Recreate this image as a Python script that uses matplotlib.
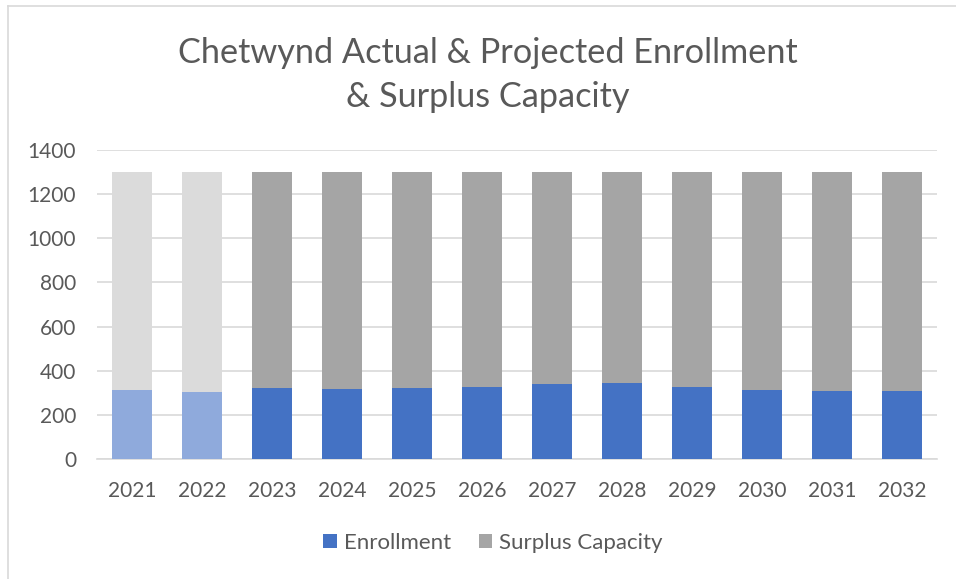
import matplotlib
matplotlib.use("Agg")
import matplotlib.pyplot as plt
from matplotlib.patches import Patch
from matplotlib.lines import Line2D

years = ["2021", "2022", "2023", "2024", "2025", "2026", "2027", "2028", "2029", "2030", "2031", "2032"]
enrollment = [312, 303, 320, 317, 320, 326, 341, 345, 327, 314, 309, 309]
capacity = [1300] * 12
surplus = [c - e for c, e in zip(capacity, enrollment)]
actual_years = ["2021", "2022"]

title = "Chetwynd Actual & Projected Enrollment\n& Surplus Capacity"
yticks = [0, 200, 400, 600, 800, 1000, 1200, 1400]

plt.rcParams["font.family"] = ["Lato", "DejaVu Sans"]
TXT = "#595959"

fig = plt.figure(figsize=(9.56, 5.79), dpi=100)
ax = fig.add_axes([97/956, 1 - 459/579, 840/956, 309/579])

x = list(range(len(years)))
enr_colors = ["#8FAADC" if y in actual_years else "#4472C4" for y in years]
sur_colors = ["#DBDBDB" if y in actual_years else "#A5A5A5" for y in years]

ax.bar(x, enrollment, width=0.585, color=enr_colors, zorder=3)
ax.bar(x, surplus, bottom=enrollment, width=0.585, color=sur_colors, zorder=3)

ax.set_xlim(-0.5, len(years) - 0.5)
ax.set_ylim(0, 1400)
ax.set_yticks(yticks)
ax.set_yticklabels([str(v) for v in yticks], fontsize=15, color=TXT)
ax.set_xticks(x)
ax.set_xticklabels(years, fontsize=15, color=TXT)
ax.tick_params(axis="both", length=0)
ax.tick_params(axis="y", pad=15)
ax.tick_params(axis="x", pad=16)
ax.yaxis.grid(True, color="#D9D9D9", linewidth=1.2, zorder=0)
for s in ["top", "right", "left"]:
    ax.spines[s].set_visible(False)
ax.spines["bottom"].set_color("#D9D9D9")
ax.spines["bottom"].set_linewidth(1.2)

fig.text(488/956, 1 - 75/579, title, ha="center", va="center", fontsize=24.7,
         color=TXT, linespacing=1.45)

handles = [Patch(facecolor="#4472C4", label="Enrollment"),
           Patch(facecolor="#A5A5A5", label="Surplus Capacity")]
fig.legend(handles=handles, loc="center", bbox_to_anchor=(493/956, 1 - 543/579),
           ncol=2, frameon=False, fontsize=16, labelcolor=TXT,
           handlelength=0.62, handleheight=0.62, handletextpad=0.3, columnspacing=1.25)

# chart border
fig.add_artist(Line2D([8/956, 8/956], [0, 1 - 6/579], color="#D9D9D9", linewidth=1.2,
                      transform=fig.transFigure))
fig.add_artist(Line2D([8/956, 1], [1 - 6/579, 1 - 6/579], color="#D9D9D9", linewidth=1.2,
                      transform=fig.transFigure))

fig.savefig("out.png", dpi=100)
